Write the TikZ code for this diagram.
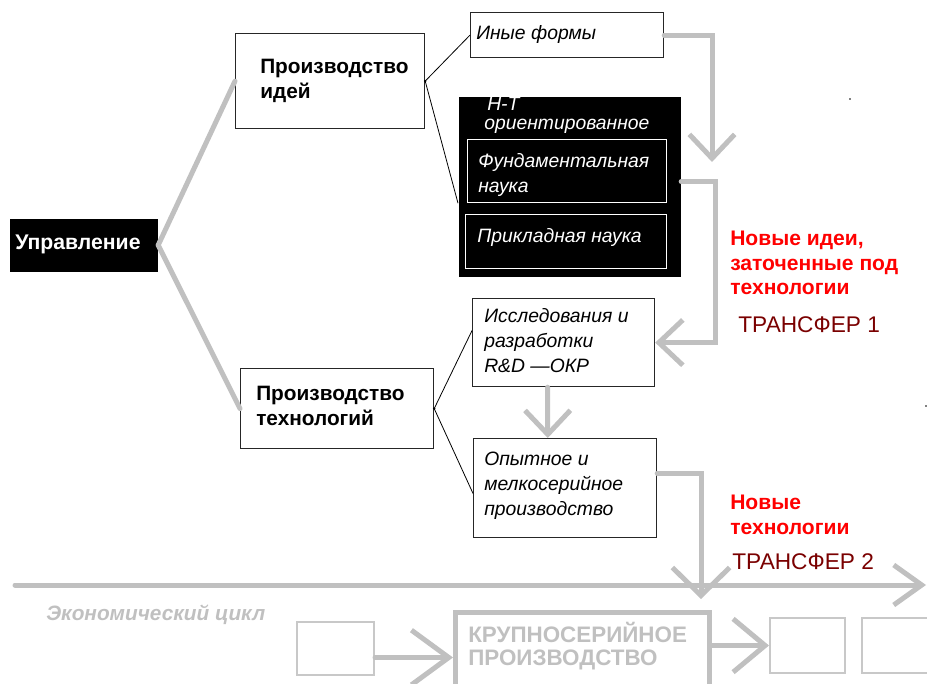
\documentclass[tikz,border=0pt]{standalone}
\usepackage{fontspec}
\setmainfont{Liberation Sans}
\usetikzlibrary{arrows.meta,calc}
\definecolor{lgray}{HTML}{C0C0C0}
\definecolor{bgray}{HTML}{C8C8C8}
\definecolor{tred}{HTML}{FF0000}
\definecolor{dred}{HTML}{7A0000}
\begin{document}
\begin{tikzpicture}[x=0.75pt,y=-0.75pt,
  box/.style={draw=black!85, line width=0.9pt, rectangle, inner sep=0pt, anchor=north west},
  bt/.style={font=\fontsize{15.6}{18.75}\selectfont\bfseries, align=left, anchor=west, inner sep=0pt},
  itx/.style={font=\fontsize{14.5}{18.75}\selectfont\itshape, align=left, anchor=west, inner sep=0pt},
  redt/.style={font=\fontsize{15.8}{18.4}\selectfont\bfseries, text=tred, align=left, anchor=west, inner sep=0pt},
  trt/.style={font=\fontsize{17}{20}\selectfont, text=dred, anchor=west, inner sep=0pt},
  gline/.style={draw=lgray, line width=3.75pt, line cap=round},
  thinl/.style={draw=black, line width=0.6pt},
  gar/.style={gline, -{Straight Barb[length=18pt,width=34pt]}}
]
\useasboundingbox (0,0) rectangle (927,684);
\clip (0,0) rectangle (927,684);

% Management
\node[box, fill=black, draw=none, minimum width=148*0.75pt, minimum height=53*0.75pt] (upr) at (9,218) {};
\node[bt, text=white, font=\fontsize{15.9}{18.75}\selectfont\bfseries] (tupr) at (15,244) {Управление};

% Production of ideas
\node[box, minimum width=189*0.75pt, minimum height=95*0.75pt] (idei) at (235,33) {};
\node[bt] (tidei) at (260,81) {Производство\\идей};

% Production of technologies
\node[box, minimum width=193*0.75pt, minimum height=80*0.75pt] (tech) at (240,368) {};
\node[bt] (ttech) at (256,406) {Производство\\технологий};

% Other forms
\node[box, minimum width=193*0.75pt, minimum height=45*0.75pt] (ine) at (470,12) {};
\node[itx] (tine) at (476,35) {Иные формы};

% Black block
\node[box, fill=black, draw=none, minimum width=222*0.75pt, minimum height=180*0.75pt] (nt) at (458,96) {};
\node[itx, text=white] (tnt1) at (487,104) {Н-Т};
\node[itx, text=white] (tnt2) at (484,126) {ориентированное};
\node[box, draw=white, minimum width=199*0.75pt, minimum height=63*0.75pt] (fund) at (467,139) {};
\node[itx, text=white] (tfund) at (478,174.5) {Фундаментальная\\наука};
\node[box, draw=white, minimum width=201*0.75pt, minimum height=54*0.75pt] (prikl) at (465,214) {};
\node[itx, text=white] (tprikl) at (477,237) {Прикладная наука};

% R&D
\node[box, minimum width=182*0.75pt, minimum height=88*0.75pt] (issl) at (472,298) {};
\node[itx] (tissl) at (484,341) {Исследования и\\разработки\\R\&D —ОКР};

% Pilot production
\node[box, minimum width=183*0.75pt, minimum height=99*0.75pt] (opyt) at (473,438) {};
\node[itx] (topyt) at (484,486) {Опытное и\\мелкосерийное\\производство};

% Red labels
\node[redt] (nid) at (730,263) {Новые идеи,\\заточенные под\\технологии};
\node[trt] (tr1) at (738,325) {ТРАНСФЕР 1};
\node[redt] (ntech) at (730,515) {Новые\\технологии};
\node[trt] (tr2) at (732,562) {ТРАНСФЕР 2};

% Economic cycle
\coordinate (ecs) at (15,585);
\coordinate (ece) at (926,585);
\draw[gline, -{Straight Barb[length=21pt,width=30pt]}] (ecs) -- (ece);
\node[font=\fontsize{15.6}{17}\selectfont\bfseries\itshape, text=lgray, anchor=west, inner sep=0pt] (econ) at (46,615) {Экономический цикл};

\node[box, draw=bgray, line width=1.5pt, minimum width=77*0.75pt, minimum height=53*0.75pt] (b1) at (296,621) {};
\node[box, draw=lgray, line width=3.75pt, minimum width=254*0.75pt, minimum height=90*0.75pt] (krup) at (453,610) {};
\node[font=\fontsize{16.8}{17.25}\selectfont\bfseries, text=lgray, align=left, anchor=west, inner sep=0pt] (tkrup) at (468,646) {КРУПНОСЕРИЙНОЕ\\ПРОИЗВОДСТВО};
\node[box, draw=bgray, line width=1.5pt, minimum width=75*0.75pt, minimum height=55*0.75pt] (b2) at (769,617) {};
\node[box, draw=bgray, line width=1.5pt, minimum width=80*0.75pt, minimum height=55*0.75pt] (b3) at (861,617) {};

\draw[gline, -{Straight Barb[length=28pt,width=41pt]}] (b1.east |- krup.west) -- (krup.west);
\draw[gline, -{Straight Barb[length=24pt,width=40pt]}] (krup.east |- b2.west) -- (b2.west);

% connectors
\draw[gline] (upr.east) -- (idei.west);
\draw[gline] (upr.east) -- (tech.west);
\draw[thinl] (idei.east) -- (ine.west);
\draw[thinl] (idei.east) -- (nt.west |- fund.south);
\draw[thinl] (tech.east) -- ([yshift=9pt]issl.west);
\draw[thinl] (tech.east) -- ([yshift=-4pt]opyt.west);
\fill (idei.east) circle (1pt);
\fill (tech.east) circle (1pt);

\coordinate (a1) at (712,162);
\draw[gar] (ine.east) -| (a1);
\draw[gar] ([yshift=3.75pt]nt.east) -- ++(34,0) |- (issl.east);
\draw[gar] ([xshift=-12pt]issl.south) -- ([xshift=-13pt]opyt.north);
\coordinate (a2) at (701,599);
\draw[gline, -{Straight Barb[length=21pt,width=43pt]}] ([yshift=11.25pt]opyt.east) -| (a2);

% stray dots
\fill (850,99) circle (0.6pt);
\fill (926,406) circle (0.6pt);
\end{tikzpicture}
\end{document}
